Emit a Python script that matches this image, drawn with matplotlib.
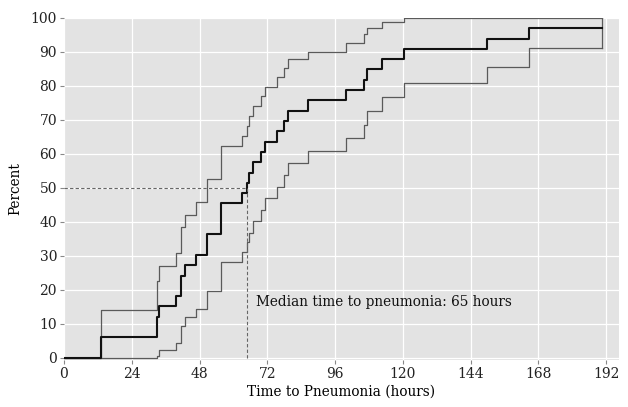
import matplotlib
matplotlib.use("Agg")
import matplotlib.pyplot as plt

# event times (hours) and cumulative incidence (%) with confidence bands
times = [0, 13, 32.8, 33.5, 39.5, 41.3, 43, 46.6, 50.8, 55.6, 62.9, 65, 65.7,
         67, 69.7, 71.3, 75.6, 78, 79.3, 86.3, 99.9, 106.2, 107.4, 112.6,
         120.4, 150, 164.7, 190.5]
estimate = [0, 6.06, 12.12, 15.15, 18.18, 24.24, 27.27, 30.30, 36.36, 45.45,
            48.48, 51.52, 54.55, 57.58, 60.61, 63.64, 66.67, 69.70, 72.73,
            75.76, 78.79, 81.82, 84.85, 87.88, 90.91, 93.94, 96.97, 96.97]
upper = [0, 14, 22.7, 27.1, 31, 38.5, 42, 45.8, 52.5, 62.4, 65.3, 68.3, 71.2,
         74.1, 77, 79.8, 82.7, 85.2, 87.8, 90.1, 92.7, 95.3, 97, 98.7, 100,
         100, 100, 100]
lower = [0, 0, 0.5, 2.4, 4.5, 9.4, 12, 14.3, 19.8, 28.1, 31.1, 34.2, 36.9,
         40.4, 43.5, 47, 50.4, 53.8, 57.4, 61, 64.8, 68.5, 72.5, 76.7, 81,
         85.7, 91.1, 91.1]

median_time = 65
x_ticks = [0, 24, 48, 72, 96, 120, 144, 168, 192]
y_ticks = [0, 10, 20, 30, 40, 50, 60, 70, 80, 90, 100]

plt.rcParams["font.family"] = ["DejaVu Serif"]

fig = plt.figure(figsize=(6.28, 4.07), dpi=100)
ax = fig.add_axes([0.1019, 0.1155, 0.8838, 0.8403])
ax.set_facecolor("#e3e3e3")
for s in ax.spines.values():
    s.set_visible(False)

ax.set_xticks(x_ticks)
ax.set_yticks(y_ticks)
ax.grid(True, color="white", linewidth=0.9)
ax.set_axisbelow(True)
ax.tick_params(length=3, color="#888888", labelsize=10, labelcolor="#222222", pad=2)

ax.step(times, upper, where="post", color="#5a5a5a", linewidth=0.9)
ax.step(times, lower, where="post", color="#5a5a5a", linewidth=0.9)
ax.plot([times[-1], times[-1]], [lower[-1], upper[-1]], color="#5a5a5a", linewidth=0.9)
ax.step(times, estimate, where="post", color="#111111", linewidth=1.5)

ax.plot([0, median_time], [50, 50], color="#666666", linestyle=(0, (3, 2)), linewidth=0.8)
ax.plot([median_time, median_time], [0, 50], color="#666666", linestyle=(0, (3, 2)), linewidth=0.8)
ax.text(68, 16.5, "Median time to pneumonia: 65 hours", fontsize=9.8,
        va="center", ha="left", color="#111111")

ax.set_xlim(0, 196.6)
ax.set_ylim(-0.6, 100)
ax.set_xlabel("Time to Pneumonia (hours)", fontsize=9.8, labelpad=3)
ax.set_ylabel("Percent", fontsize=9.8, labelpad=6)

fig.savefig("out.png", dpi=100)
